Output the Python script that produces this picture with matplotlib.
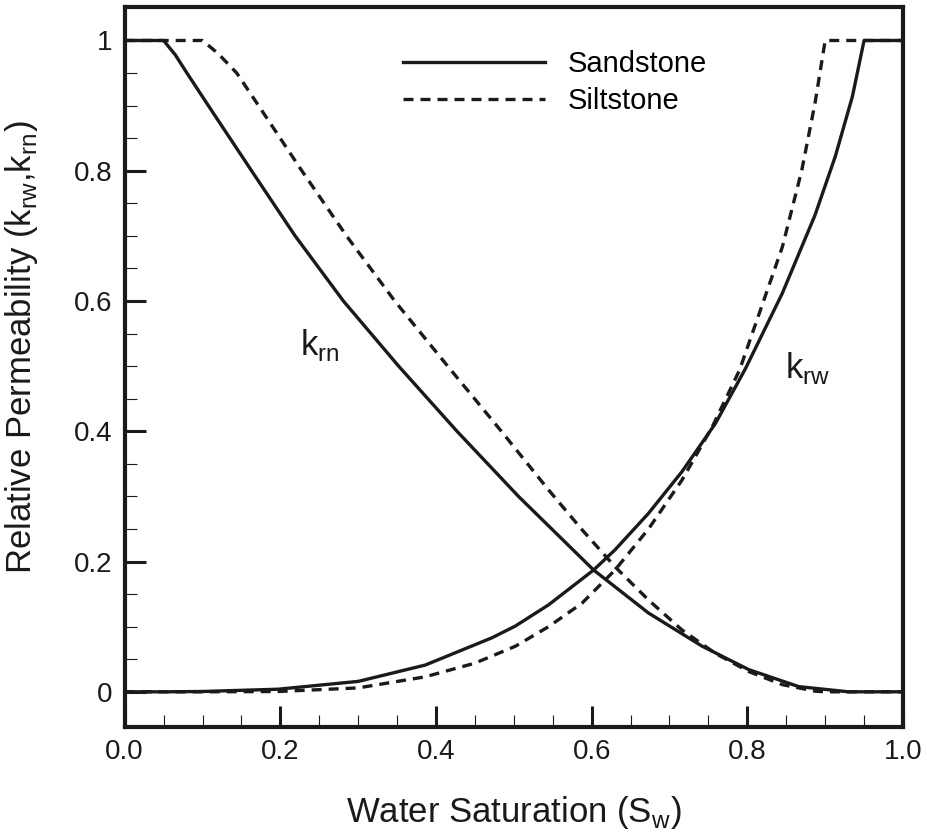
import matplotlib
matplotlib.use("Agg")
import matplotlib.pyplot as plt
from matplotlib.ticker import FixedLocator

# values
sw_krn_sand = [0.0, 0.05, 0.065, 0.08, 0.1075, 0.163, 0.219, 0.281, 0.352, 0.427,
               0.506, 0.6025, 0.673, 0.742, 0.802, 0.866, 0.93, 1.0]
krn_sand = [1.0, 1.0, 0.978, 0.95, 0.9, 0.8, 0.7, 0.6, 0.5, 0.4,
            0.3, 0.187, 0.121, 0.07, 0.034, 0.008, 0.0, 0.0]

sw_krw_sand = [0.0, 0.05, 0.1, 0.197, 0.300, 0.386, 0.429, 0.472, 0.502, 0.5446,
               0.6025, 0.630, 0.673, 0.716, 0.759, 0.7975, 0.845, 0.887, 0.913,
               0.935, 0.95, 1.0]
krw_sand = [0.0, 0.0, 0.0005, 0.004, 0.016, 0.041, 0.062, 0.083, 0.101, 0.1335,
            0.187, 0.218, 0.274, 0.338, 0.412, 0.496, 0.612, 0.732, 0.822,
            0.914, 1.0, 1.0]

sw_krn_silt = [0.0, 0.1, 0.12, 0.144, 0.172, 0.2276, 0.285, 0.347, 0.415, 0.484,
               0.5446, 0.5875, 0.630, 0.673, 0.716, 0.759, 0.802, 0.845, 0.887,
               0.9, 1.0]
krn_silt = [1.0, 1.0, 0.98, 0.95, 0.9, 0.8, 0.7, 0.6, 0.5, 0.4,
            0.310, 0.249, 0.192, 0.141, 0.095, 0.059, 0.031, 0.011, 0.001,
            0.0, 0.0]

sw_krw_silt = [0.0, 0.1, 0.197, 0.300, 0.386, 0.450, 0.502, 0.5446, 0.5875, 0.630,
               0.673, 0.716, 0.755, 0.790, 0.845, 0.870, 0.887, 0.898, 0.9, 1.0]
krw_silt = [0.0, 0.0, 0.0005, 0.006, 0.023, 0.044, 0.070, 0.100, 0.136, 0.187,
            0.250, 0.325, 0.407, 0.494, 0.683, 0.801, 0.904, 0.985, 1.0, 1.0]

x_ticks = [0.0, 0.2, 0.4, 0.6, 0.8, 1.0]
x_labels = ["0.0", "0.2", "0.4", "0.6", "0.8", "1.0"]
y_ticks = [0.0, 0.2, 0.4, 0.6, 0.8, 1.0]
y_labels = ["0", "0.2", "0.4", "0.6", "0.8", "1"]

plt.rcParams['font.family'] = ['Liberation Sans', 'DejaVu Sans']
plt.rcParams['mathtext.fontset'] = 'custom'
plt.rcParams['mathtext.rm'] = 'Liberation Sans'

INK = '#1a1a1a'
LW = 2.4
DASH = (3.0, 2.1)

fig = plt.figure(figsize=(9.27, 8.36), dpi=100)
ax = fig.add_axes([0.1345, 0.1304, 0.8396, 0.8609])

ax.plot(sw_krn_sand, krn_sand, color=INK, lw=LW, label="Sandstone")
ax.plot(sw_krw_sand, krw_sand, color=INK, lw=LW)
ax.plot(sw_krn_silt, krn_silt, color=INK, lw=LW, ls=(0, DASH), label="Siltstone")
ax.plot(sw_krw_silt, krw_silt, color=INK, lw=LW, ls=(0, DASH))

ax.set_xlim(0, 1)
ax.set_ylim(-0.054, 1.051)

minor = [k * 0.05 for k in range(1, 20) if k % 4 != 0]
ax.xaxis.set_major_locator(FixedLocator(x_ticks))
ax.set_xticklabels(x_labels)
ax.yaxis.set_major_locator(FixedLocator(y_ticks))
ax.set_yticklabels(y_labels)
ax.xaxis.set_minor_locator(FixedLocator(minor))
ax.yaxis.set_minor_locator(FixedLocator(minor))

ax.tick_params(which='major', direction='in', length=15, width=2.2,
               labelsize=20, pad=9, color=INK, labelcolor=INK)
ax.tick_params(which='minor', direction='in', length=8.6, width=0.8, color=INK)
ax.tick_params(top=False, right=False, which='both')

for sp in ax.spines.values():
    sp.set_linewidth(3.0)
    sp.set_color(INK)

ax.set_xlabel(r"Water Saturation (S$_\mathrm{w}$)", fontsize=25, color=INK)
ax.set_ylabel(r"Relative Permeability (k$_\mathrm{rw}$,k$_\mathrm{rn}$)", fontsize=25,
              color=INK)
ax.xaxis.set_label_coords(0.5, -0.093)
ax.yaxis.set_label_coords(-0.109, 0.527)

ax.text(0.2257, 0.517, r"k$_\mathrm{rn}$", fontsize=25, ha='left', va='baseline', color=INK)
ax.text(0.849, 0.482, r"k$_\mathrm{rw}$", fontsize=25, ha='left', va='baseline', color=INK)

ax.legend(loc='upper left', bbox_to_anchor=(0.3576, 0.94), frameon=False, fontsize=21,
          handlelength=4.86, handletextpad=0.79, labelspacing=0.3, borderpad=0,
          borderaxespad=0)

plt.savefig("out.png", dpi=100)
plt.close()
